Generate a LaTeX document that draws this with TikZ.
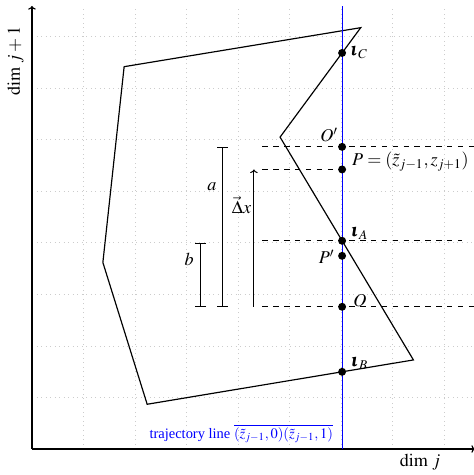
\documentclass[tikz,border=0pt]{standalone}
\usepackage{amsmath}
\usepackage{mathptmx}
\usepackage[no-math]{fontspec}
\setmainfont{Liberation Serif}
\usetikzlibrary{arrows.meta}
\begin{document}
\begin{tikzpicture}[x=0.86cm,y=0.86cm,
  gridline/.style={gray!40,dotted,line width=0.5pt},
  axisline/.style={line width=0.65pt},
  poly/.style={line width=0.65pt},
  traj/.style={blue,line width=0.65pt},
  dot/.style={circle,fill=black,inner sep=0pt,minimum size=4.4pt},
  guide/.style={dashed,line width=0.55pt},
  measure/.style={line width=0.55pt},
  lbl/.style={inner sep=1pt}]
\useasboundingbox (-0.722,-0.587) rectangle (9.955,10.135);
\draw[gridline] (0,0) grid (10,10);
% axes
\coordinate (orig) at (0,0);
\coordinate (xend) at (10,0);
\coordinate (yend) at (0,10);
\draw[axisline,-{To[length=2pt]}] (orig) -- (yend);
\draw[axisline,-{To[length=2pt]}] (orig) -- (xend);
\node (xlab) at (8.76,-0.29) {$\dim\, j$};
\node[rotate=90] (ylab) at (-0.37,8.76) {$\dim\, j+1$};
% polygon
\coordinate (v1) at (1.6,4.21);
\coordinate (v2) at (2.08,8.63);
\coordinate (v3) at (7.42,9.51);
\coordinate (v4) at (5.6,7.04);
\coordinate (v5) at (8.61,2.01);
\coordinate (v6) at (2.6,1.01);
\draw[poly] (v1) -- (v2) -- (v3) -- (v4) -- (v5) -- (v6) -- cycle;
% trajectory line
\coordinate (t0) at (7,0);
\coordinate (t1) at (7,10);
\draw[traj] (t0) -- (t1);
\node[blue,font=\footnotesize,anchor=east,inner sep=0pt] (tlab) at (6.8,0.34)
  {trajectory line $\overline{(\tilde z_{j-1},0)(\tilde z_{j-1},1)}$};
% dashed guides
\coordinate (gOp) at (5.2,6.82);
\coordinate (gOpE) at (10,6.82);
\coordinate (gP) at (5.2,6.31);
\coordinate (gA) at (5.2,4.70);
\coordinate (gAE) at (9.7,4.70);
\coordinate (gO) at (5.2,3.21);
\coordinate (gOE) at (10,3.21);
\draw[guide] (gOp) -- (gOpE);
% points
\node[dot] (iC) at (7,8.94) {};
\node[dot] (Op) at (7,6.82) {};
\node[dot] (P) at (7,6.31) {};
\node[dot] (iA) at (7,4.70) {};
\node[dot] (Pp) at (7,4.36) {};
\node[dot] (O) at (7,3.21) {};
\node[dot] (iB) at (7,1.742) {};
\draw[guide] (gP) -- (P.center);
\draw[guide] (gA) -- (gAE);
\draw[guide] (gO) -- (gOE);
% point labels
\node[lbl] (liC) at (7.39,8.95) {$\pmb{\iota}_C$};
\node[lbl] (lOp) at (6.71,7.09) {$O'$};
\node[lbl,anchor=west] (lP) at (7.18,6.49) {$P=(\tilde z_{j-1},z_{j+1})$};
\node[lbl] (liA) at (7.40,4.87) {$\pmb{\iota}_A$};
\node[lbl] (lPp) at (6.65,4.34) {$P'$};
\node[lbl] (lO) at (7.40,3.36) {$O$};
\node[lbl] (liB) at (7.40,1.93) {$\pmb{\iota}_B$};
% measures
\coordinate (aTop) at (4.3,6.82);
\coordinate (aBot) at (4.3,3.21);
\coordinate (bTop) at (3.81,4.66);
\coordinate (bBot) at (3.81,3.21);
\coordinate (dBot) at (5.01,3.21);
\coordinate (dTop) at (5.01,6.31);
\draw[measure,{Bar[width=6pt]}-{Bar[width=6pt]}] (aBot) -- (aTop);
\draw[measure,{Bar[width=6pt]}-{Bar[width=6pt]}] (bBot) -- (bTop);
\draw[measure,-{To[length=2pt]}] (dBot) -- (dTop);
\node[lbl] (la) at (4.06,5.92) {$a$};
\node[lbl] (lb) at (3.55,4.28) {$b$};
\node[lbl] (ld) at (4.73,5.51) {$\vec{\Delta} x$};
\end{tikzpicture}
\end{document}
